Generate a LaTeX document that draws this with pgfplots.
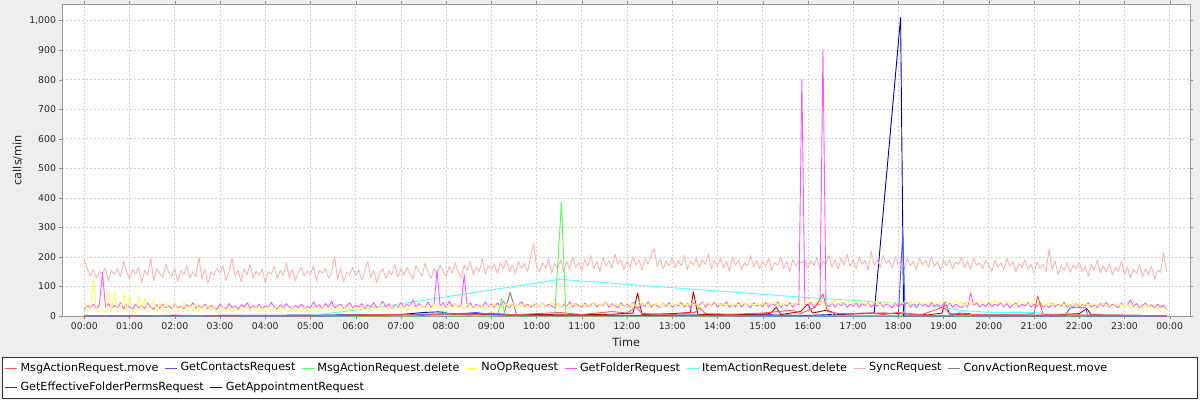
\documentclass[border=0pt]{standalone}
\usepackage{fontspec}
\setmainfont{DejaVu Sans}
\usepackage{pgfplots}
\usepackage{pgfplotstable}
\pgfplotsset{compat=1.18}
\definecolor{bg}{RGB}{238,238,238}
\definecolor{c0}{RGB}{255,85,85}
\definecolor{c1}{RGB}{85,85,255}
\definecolor{c2}{RGB}{85,255,85}
\definecolor{c3}{RGB}{255,255,85}
\definecolor{c4}{RGB}{255,85,255}
\definecolor{c5}{RGB}{85,255,255}
\definecolor{c6}{RGB}{255,178,178}
\definecolor{c7}{RGB}{128,128,128}
\definecolor{c8}{RGB}{192,0,0}
\definecolor{c9}{RGB}{0,0,192}

% time in minutes since 00:00
\pgfplotstableread{
t sync folder noop
0 190 22 50
4 160 35 18
8 135 28 25
12 158 40 120
16 128 26 20
20 150 38 15
24 145 148 22
28 162 30 12
32 118 42 88
36 155 25 18
40 140 36 82
44 160 28 14
48 132 45 20
52 185 24 75
56 150 38 16
60 125 30 73
64 158 22 15
68 142 40 10
72 165 27 65
76 112 35 18
80 155 25 60
84 138 44 12
88 195 30 20
92 120 22 55
96 160 38 14
100 145 26 45
104 130 40 18
108 175 28 48
112 148 35 12
116 135 24 20
120 160 42 50
124 118 28 15
128 155 33 22
132 140 25 48
136 170 38 12
140 128 30 40
144 150 45 18
148 132 26 45
152 200 35 14
156 125 28 38
160 158 40 20
164 110 24 42
168 150 36 16
172 138 29 35
176 162 22 12
180 145 40 18
184 170 30 32
188 120 25 15
192 150 42 28
196 195 28 12
200 135 35 30
204 155 22 18
208 115 38 25
212 160 30 14
216 140 45 32
220 175 26 16
224 128 34 22
228 152 28 35
232 138 40 12
236 160 24 26
240 112 35 18
244 150 28 30
248 142 46 15
252 168 30 25
256 125 24 34
260 155 38 12
264 138 27 28
268 180 42 20
272 130 30 15
276 158 25 32
280 120 36 18
284 148 28 24
288 165 40 14
292 135 26 30
296 152 33 20
300 140 28 16
304 170 48 32
308 118 30 22
312 155 38 15
316 145 25 28
320 160 42 34
324 128 30 18
328 150 50 25
332 200 28 14
336 125 35 30
340 162 40 20
344 115 26 36
348 148 34 16
352 140 45 28
356 165 28 22
360 135 36 30
364 158 30 18
368 122 42 34
372 150 25 22
376 185 38 28
380 130 30 15
384 155 46 32
388 112 28 20
392 148 35 38
396 160 50 24
400 128 30 18
404 152 42 35
408 140 26 28
412 175 38 22
416 132 30 40
420 160 45 25
424 138 28 32
428 165 40 18
432 145 32 36
436 125 55 24
440 170 30 30
444 150 42 20
448 135 35 38
452 178 28 26
456 148 48 32
460 128 30 22
464 160 40 40
468 140 155 28
472 172 32 35
476 150 45 24
480 135 28 30
484 168 50 38
488 145 32 25
492 180 42 42
496 150 30 28
500 130 38 34
504 172 140 22
508 155 30 40
512 185 45 30
516 140 28 36
520 165 40 25
524 150 35 44
528 195 30 30
532 142 48 22
536 170 32 38
540 158 40 30
544 175 30 42
548 145 45 28
552 180 32 36
556 160 50 25
560 190 35 40
564 150 28 32
568 172 42 45
572 145 30 28
576 185 38 38
580 160 48 30
584 178 32 44
588 150 40 26
592 200 30 38
596 245 36 32
600 165 42 40
604 150 30 28
608 182 46 45
612 160 32 34
616 195 40 30
620 145 35 48
624 178 28 36
628 160 44 42
632 190 30 30
636 150 38 46
640 185 32 35
644 158 48 28
648 200 30 44
652 165 42 38
656 180 35 30
660 155 30 45
664 192 44 34
668 168 32 40
672 205 38 30
676 160 46 48
680 185 30 36
684 150 40 42
688 198 34 30
692 170 48 46
696 188 30 38
700 162 42 32
704 210 35 44
708 175 28 36
712 190 45 40
716 158 32 30
720 185 40 46
724 165 30 34
728 200 46 42
732 172 35 30
736 190 28 48
740 155 42 38
744 195 32 44
748 175 48 32
752 205 30 40
756 228 40 36
760 168 35 46
764 192 28 30
768 160 44 42
772 185 32 38
776 170 46 34
780 198 30 44
784 162 40 36
788 188 34 48
792 170 46 32
796 205 30 40
800 158 42 38
804 185 28 46
808 172 45 34
812 195 32 42
816 165 38 30
820 190 48 44
824 175 30 36
828 210 42 48
832 160 34 32
836 188 46 40
840 170 30 45
844 195 42 36
848 162 35 42
852 185 48 30
856 150 30 46
860 198 40 38
864 172 32 44
868 190 46 34
872 158 30 48
876 180 42 40
880 170 36 36
884 205 28 46
888 165 45 32
892 188 34 44
896 160 40 38
900 185 32 48
904 168 46 36
908 195 30 44
912 155 42 40
916 180 35 50
920 172 48 34
924 200 30 46
928 160 40 38
932 185 34 48
936 150 46 36
940 192 30 44
944 170 42 40
948 185 38 50
952 180 800 36
956 190 40 46
960 162 35 42
964 188 48 50
968 170 30 38
972 198 42 48
976 160 36 40
980 185 900 52
984 175 40 36
988 205 32 46
992 165 45 42
996 190 30 54
1000 158 42 38
1004 195 35 48
1008 172 46 44
1012 210 30 40
1016 168 40 52
1020 190 34 38
1024 160 45 48
1028 198 30 42
1032 175 42 54
1036 188 36 40
1040 155 48 46
1044 220 30 38
1048 170 40 50
1052 192 34 44
1056 165 46 36
1060 205 30 52
1064 178 42 42
1068 190 36 48
1072 162 28 40
1076 200 44 46
1080 175 32 38
1084 188 40 50
1088 160 35 42
1092 195 46 36
1096 170 30 48
1100 185 42 40
1104 158 28 52
1108 198 44 44
1112 172 34 38
1116 190 40 48
1120 165 30 42
1124 200 46 50
1128 168 32 38
1132 185 40 46
1136 155 28 40
1140 188 42 50
1144 170 32 38
1148 192 46 46
1152 160 30 42
1156 182 40 54
1160 175 34 40
1164 198 28 48
1168 165 42 36
1172 185 30 50
1176 158 78 44
1180 195 36 40
1184 172 44 52
1188 180 30 38
1192 160 40 46
1196 190 32 42
1200 172 45 50
1204 150 30 38
1208 188 40 56
1212 165 34 42
1216 180 46 48
1220 155 30 36
1224 195 42 52
1228 168 28 40
1232 185 38 46
1236 150 44 34
1240 178 30 50
1244 162 40 42
1248 190 34 48
1252 158 46 38
1256 175 30 44
1260 145 40 46
1264 182 32 36
1268 160 44 50
1272 175 30 40
1276 150 38 34
1280 225 28 48
1284 158 42 38
1288 185 32 44
1292 140 40 30
1296 170 34 46
1300 155 46 36
1304 180 30 42
1308 148 38 32
1312 172 28 46
1316 160 42 36
1320 182 30 40
1324 150 40 30
1328 168 34 44
1332 135 45 36
1336 175 30 42
1340 155 38 28
1344 190 28 40
1348 145 42 34
1352 170 32 46
1356 150 46 32
1360 178 30 38
1364 138 40 28
1368 165 34 42
1372 152 28 34
1376 185 44 40
1380 140 30 30
1384 165 38 38
1388 128 55 26
1392 158 32 40
1396 145 42 32
1400 175 28 36
1404 132 36 24
1408 160 44 38
1412 140 30 30
1416 168 38 34
1420 125 28 22
1424 155 40 32
1428 148 30 25
1432 215 36 30
1436 150 22 18
}\dense

\begin{document}
\begin{tikzpicture}
\fill[bg] (0,0) rectangle (1200pt,400pt);
\begin{axis}[
  at={(62.5pt,84pt)}, anchor=south west,
  scale only axis, width=1127.5pt, height=311.7pt,
  xmin=-29, xmax=1467, ymin=0, ymax=1055,
  axis background/.style={fill=white},
  axis line style={draw=black!40},
  xtick={0,60,...,1440},
  xticklabels={00:00,01:00,02:00,03:00,04:00,05:00,06:00,07:00,08:00,09:00,10:00,11:00,12:00,13:00,14:00,15:00,16:00,17:00,18:00,19:00,20:00,21:00,22:00,23:00,00:00},
  ytick={0,100,...,1000},
  scaled y ticks=false,
  /pgf/number format/1000 sep={,},
  /pgf/number format/assume math mode=true,
  tick align=outside, major tick length=3pt,
  tick style={draw=black!45},
  tick label style={font=\fontsize{9.3}{11}\selectfont, text=black!85},
  grid=major,
  major grid style={draw=black!17, dash pattern=on 2pt off 2pt, line width=0.6pt},
  xlabel={Time}, ylabel={calls/min},
  every axis x label/.style={at={(axis description cs:0.5,0)}, yshift=-26pt, anchor=center, font=\fontsize{11.3}{13}\selectfont, text=black!85},
  every axis y label/.style={at={(axis description cs:0,0.5)}, xshift=-45pt, rotate=90, anchor=center, font=\fontsize{11.3}{13}\selectfont, text=black!85},
  every axis plot/.append style={line width=0.9pt, line join=round},
]
% GetAppointmentRequest
\addplot[c9] coordinates {(0,0) (190,2) (300,3) (420,5) (450,12) (470,14) (490,6) (540,8) (560,3) (700,2) (900,4) (960,2) (1048,10) (1083,1010) (1087,0) (1200,0) (1436,0)};
% GetEffectiveFolderPermsRequest
\addplot[c8] coordinates {(0,0) (120,1) (240,0) (360,2) (450,5) (500,8) (560,3) (600,5) (640,4) (700,6) (728,10) (734,78) (740,5) (780,8) (804,12) (808,82) (814,6) (860,4) (910,8) (918,30) (924,5) (950,15) (960,40) (966,10) (985,20) (1000,6) (1060,10) (1120,4) (1138,10) (1142,48) (1148,6) (1200,4) (1280,3) (1320,8) (1330,25) (1336,4) (1400,2) (1436,0)};
% ConvActionRequest.move
\addplot[c7] coordinates {(0,0) (556,0) (565,80) (574,0) (1200,0) (1240,6) (1250,0) (1436,0)};
% SyncRequest
\addplot[c6] table[x=t, y=sync] {\dense};
% ItemActionRequest.delete
\addplot[c5] coordinates {(300,3) (345,15) (394,31) (631,124) (945,65) (1118,37) (1160,20) (1202,12) (1264,12) (1280,2)};
% GetFolderRequest
\addplot[c4] table[x=t, y=folder] {\dense};
% NoOpRequest
\addplot[c3] table[x=t, y=noop] {\dense};
% MsgActionRequest.delete
\addplot[c2] coordinates {(0,0) (470,0) (475,18) (480,0) (548,0) (554,60) (558,0) (624,0) (633,385) (639,0) (990,0) (995,10) (1000,0) (1084,0) (1086,15) (1090,0) (1436,0)};
% GetContactsRequest
\addplot[c1] coordinates {(0,0) (300,0) (400,3) (500,8) (520,12) (540,5) (600,2) (1000,0) (1080,0) (1086,290) (1089,0) (1150,0) (1160,10) (1175,8) (1180,0) (1300,0) (1302,5) (1308,28) (1329,28) (1331,0) (1436,0)};
% MsgActionRequest.move
\addplot[c0] coordinates {(0,2) (60,0) (120,3) (180,0) (240,2) (300,0) (360,4) (420,6) (450,2) (480,8) (510,3) (540,10) (570,4) (600,8) (630,12) (660,5) (700,15) (720,10) (732,30) (740,8) (780,5) (810,12) (816,28) (824,8) (860,6) (900,10) (940,20) (950,8) (970,30) (980,75) (986,15) (1000,8) (1040,10) (1060,5) (1080,12) (1110,4) (1140,30) (1148,8) (1180,5) (1220,3) (1260,8) (1265,68) (1272,6) (1300,4) (1360,3) (1400,2) (1436,0)};
\end{axis}
% legend
\draw[black!80, fill=white, line width=0.8pt] (2pt,2pt) rectangle (1197pt,42.5pt);
\begin{scope}[font=\fontsize{11.2}{13}\selectfont, every node/.style={anchor=west, inner sep=0pt, xshift=3pt, text=black}, line width=1pt]
\draw[c0] (5pt,32pt) -- ++(12pt,0) node (l0) {MsgActionRequest.move};
\draw[c1] ([xshift=6pt]l0.east) -- ++(12pt,0) node (l1) {GetContactsRequest};
\draw[c2] ([xshift=6pt]l1.east) -- ++(12pt,0) node (l2) {MsgActionRequest.delete};
\draw[c3] ([xshift=6pt]l2.east) -- ++(12pt,0) node (l3) {NoOpRequest};
\draw[c4] ([xshift=6pt]l3.east) -- ++(12pt,0) node (l4) {GetFolderRequest};
\draw[c5] ([xshift=6pt]l4.east) -- ++(12pt,0) node (l5) {ItemActionRequest.delete};
\draw[c6] ([xshift=6pt]l5.east) -- ++(12pt,0) node (l6) {SyncRequest};
\draw[c7] ([xshift=6pt]l6.east) -- ++(12pt,0) node (l7) {ConvActionRequest.move};
\draw[c8] (5pt,13pt) -- ++(12pt,0) node (l8) {GetEffectiveFolderPermsRequest};
\draw[c9] ([xshift=6pt]l8.east) -- ++(12pt,0) node (l9) {GetAppointmentRequest};
\end{scope}
\pgfresetboundingbox
\path (0,0) rectangle (1200pt,400pt);
\end{tikzpicture}
\end{document}
